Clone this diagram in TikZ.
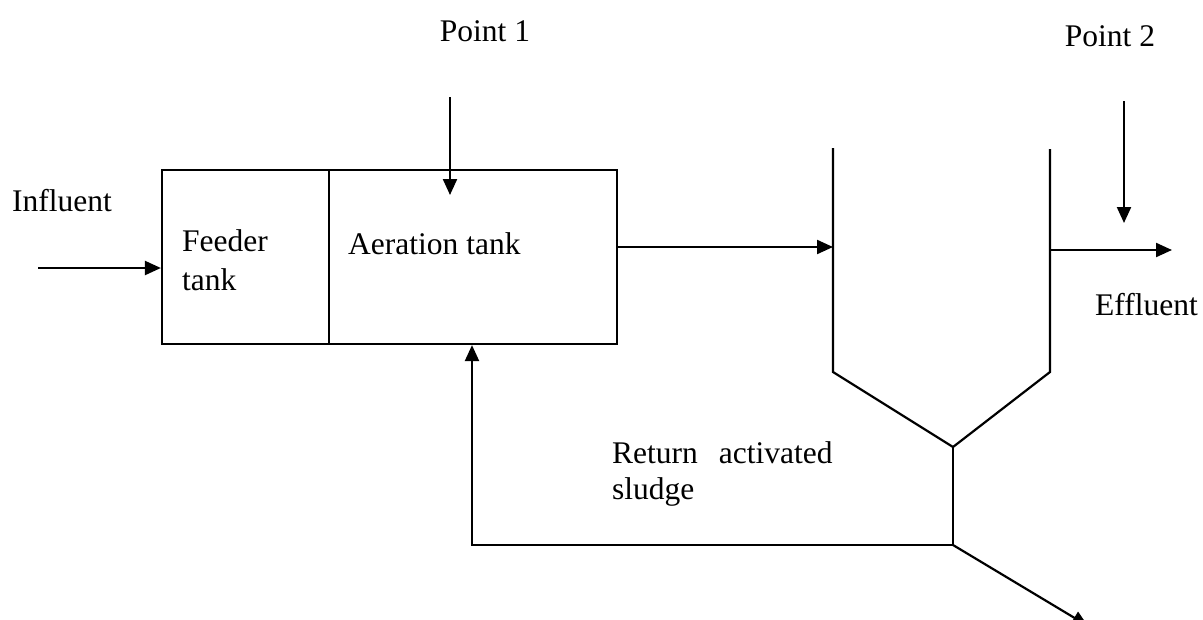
\documentclass[tikz,border=0pt]{standalone}
\usepackage{fontspec}
\setmainfont{Liberation Serif}
\usetikzlibrary{arrows.meta}
\begin{document}
\begin{tikzpicture}[x=1pt,y=-1pt,
  line/.style={line width=2.2pt},
  flow/.style={line, -{Triangle[length=16pt,width=14pt]}},
  lbl/.style={font=\fontsize{31.5}{40}\selectfont, inner sep=0pt},
  txt/.style={lbl, anchor=west},
  tank/.style={draw, line width=2.2pt, inner sep=0pt}]
\useasboundingbox (0,0) rectangle (1203,619);
\clip (0,0) rectangle (1203,619);
% tanks
\node[tank, minimum width=167pt, minimum height=174pt] (feeder) at (245.5,257) {};
\node[tank, minimum width=288pt, minimum height=174pt] (aer) at (473,257) {};
\node[txt] (tfeeder) at (182,241) {Feeder};
\node[txt] (tfeeder2) at (182,280) {tank};
\node[txt] (taer) at (348,244) {Aeration tank};
% influent
\node[txt] (influent) at (12,201) {Influent};
\coordinate (inS) at (38,268);
\draw[flow] (inS) -- (inS -| feeder.west);
% point 1
\node[lbl] (p1) at (485,31) {Point 1};
\coordinate (p1s) at (450,97);
\coordinate (p1e) at (450,195);
\draw[flow] (p1s) -- (p1e);
% clarifier
\coordinate (cTL) at (833,148);
\coordinate (cBL) at (833,372);
\coordinate (cTR) at (1050,149);
\coordinate (cBR) at (1050,372);
\coordinate (cV) at (953,447);
\coordinate (cJ) at (953,545);
\draw[line, line join=miter] (cTL) -- (cBL) -- (cV) -- (cBR) -- (cTR);
\draw[line] (cV) -- (cJ);
% aeration -> clarifier
\coordinate (aOut) at (617,247);
\draw[flow] (aOut) -- (aOut -| cTL);
% point 2 and effluent
\node[lbl] (p2) at (1110,36) {Point 2};
\coordinate (p2s) at (1124,101);
\coordinate (p2e) at (1124,223);
\draw[flow] (p2s) -- (p2e);
\coordinate (effS) at (1050,250);
\coordinate (effE) at (1172,250);
\draw[flow] (effS) -- (effE);
\node[txt] (eff) at (1095,305) {Effluent};
% return sludge
\coordinate (rx) at (472,545);
\draw[flow] (cJ) -- (rx) -- (rx |- aer.south);
\node[txt] (ret1) at (612,453) {Return\hspace{21pt}activated};
\node[txt] (ret2) at (612,492) {sludge};
% waste
\coordinate (waste) at (1088,626);
\draw[flow] (cJ) -- (waste);
\end{tikzpicture}
\end{document}
